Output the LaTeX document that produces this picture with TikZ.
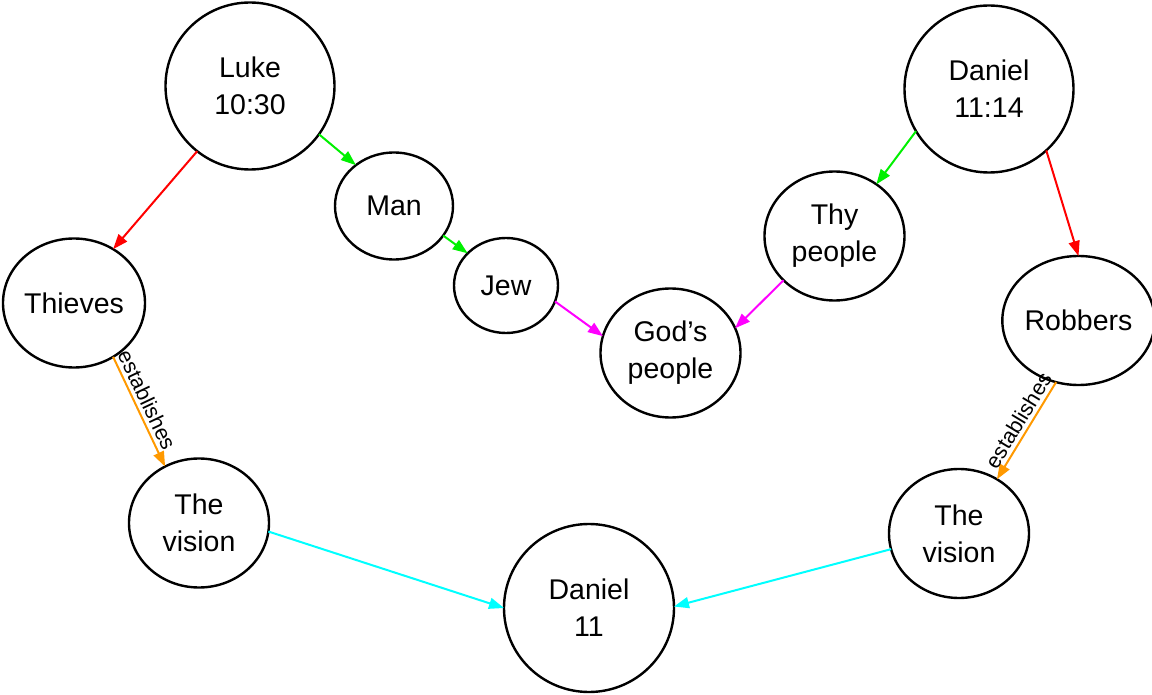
\documentclass[tikz,border=0pt]{standalone}
\usepackage{fontspec}
\setmainfont{Liberation Sans}
\usetikzlibrary{arrows.meta,shapes.geometric}
\definecolor{cred}{RGB}{255,0,0}
\definecolor{cgreen}{RGB}{0,240,0}
\definecolor{cmag}{RGB}{255,0,255}
\definecolor{corange}{RGB}{255,153,0}
\definecolor{ccyan}{RGB}{0,255,255}
\begin{document}
\begin{tikzpicture}[x=1pt,y=-1pt,
  nd/.style={ellipse, draw, line width=2.4pt, inner sep=0pt, outer sep=0pt, align=center,
    font=\fontsize{28.5}{37}\selectfont},
  bignd/.style={nd, minimum width=169pt, minimum height=167pt},
  midnd/.style={nd, minimum width=140pt, minimum height=129pt},
  conn/.style={line width=2pt, -{Triangle[length=15pt,width=11pt]}},
  lbl/.style={font=\fontsize{21.5}{24}\selectfont, text=black, sloped, above, inner sep=3.5pt}
]
\useasboundingbox (0,0) rectangle (1152,695);

\node[bignd] (luke) at (250,86) {Luke\\10:30};
\node[bignd] (dan1114) at (989,89) {Daniel\\11:14};
\node[nd, minimum width=118pt, minimum height=107pt] (man) at (394,206) {Man};
\node[nd, minimum width=104pt, minimum height=95pt] (jew) at (506,285.5) {Jew};
\node[midnd] (gods) at (670.5,353) {God’s\\people};
\node[midnd] (thy) at (834.5,236) {Thy\\people};
\node[midnd, minimum width=142pt] (thieves) at (74,303) {Thieves};
\node[midnd] (robbers) at (1078.5,320.5) {Robbers};
\node[midnd] (visl) at (199,523) {The\\vision};
\node[midnd] (visr) at (959,533.5) {The\\vision};
\node[bignd, minimum width=170pt, minimum height=168pt] (dan11) at (589,608) {Daniel\\11};

\draw[conn, cred] (luke.231) -- (thieves.54);
\draw[conn, cgreen] (luke.-35.4) -- (man.133.6);
\draw[conn, cgreen] (man.-31.5) -- (jew.140.7);
\draw[conn, cmag] (jew.-18.7) -- (gods.166);
\draw[conn, cmag] (thy.221.2) -- (gods.21.5);
\draw[conn, cgreen] (dan1114.210.6) -- (thy.51.1);
\draw[conn, cred] (dan1114.-47.4) -- (robbers.90.5);
\draw[conn, corange] (thieves.-54.5) -- node[lbl, pos=0.44] {establishes} (visl.121.3);
\draw[conn, corange] (robbers.-110.1) -- node[lbl, pos=0.46] {establishes} (visr.55);
\draw[conn, ccyan] (visl.-7.2) -- (dan11.180);
\draw[conn, ccyan] (visr.193.4) -- (dan11.1);
\end{tikzpicture}
\end{document}
